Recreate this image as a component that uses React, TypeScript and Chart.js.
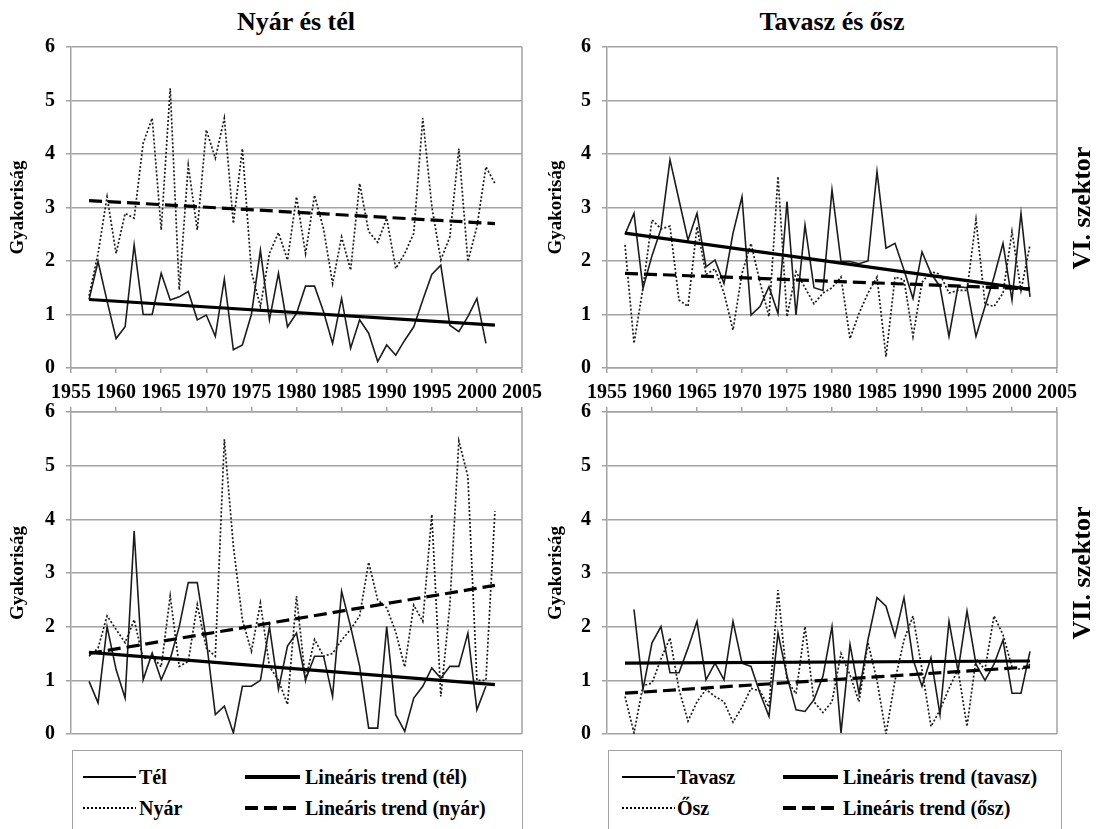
import React, { useEffect, useRef } from "react";
import { Chart, registerables } from "chart.js";

Chart.register(...registerables);

// ---------- data ----------
const years = [
  1957, 1958, 1959, 1960, 1961, 1962, 1963, 1964, 1965, 1966,
  1967, 1968, 1969, 1970, 1971, 1972, 1973, 1974, 1975, 1976,
  1977, 1978, 1979, 1980, 1981, 1982, 1983, 1984, 1985, 1986,
  1987, 1988, 1989, 1990, 1991, 1992, 1993, 1994, 1995, 1996,
  1997, 1998, 1999, 2000, 2001, 2002,
];

// VI. szektor – Nyár és tél
const telVI = [
  1.28, 1.99, 1.25, 0.55, 0.77, 2.3, 1.0, 1.0, 1.77, 1.27,
  1.33, 1.43, 0.9, 0.99, 0.59, 1.66, 0.34, 0.43, 1.0, 2.2,
  0.9, 1.77, 0.77, 1.02, 1.53, 1.53, 1.05, 0.46, 1.3, 0.37,
  0.9, 0.65, 0.12, 0.43, 0.24, 0.52, 0.77, 1.27, 1.75, 1.92,
  0.8, 0.68, 0.96, 1.3, 0.46, null,
];
const nyarVI = [
  1.35, 2.14, 3.2, 2.14, 2.89, 2.8, 4.2, 4.67, 2.58, 5.23,
  1.46, 3.79, 2.58, 4.45, 3.92, 4.67, 2.7, 4.1, 1.8, 1.15,
  2.14, 2.53, 2.02, 3.2, 2.14, 3.23, 2.6, 1.58, 2.45, 1.83,
  3.45, 2.55, 2.35, 2.8, 1.86, 2.14, 2.52, 4.67, 3.02, 2.02,
  2.45, 4.1, 1.99, 2.64, 3.76, 3.45,
];
// VI. szektor – Tavasz és ősz
const tavaszVI = [
  2.5, 2.89, 1.49, 2.1, 2.6, 3.89, 3.14, 2.39, 2.89, 1.89,
  2.02, 1.58, 2.52, 3.2, 0.99, 1.15, 1.52, 1.02, 3.11, 0.99,
  2.67, 1.5, 1.45, 3.33, 1.99, 1.99, 1.95, 2.0, 3.67, 2.24,
  2.33, 1.83, 1.3, 2.17, 1.77, 1.52, 0.59, 1.52, 1.5, 0.59,
  1.15, 1.7, 2.33, 1.27, 2.89, 1.33,
];
const oszVI = [
  2.3, 0.46, 1.5, 2.77, 2.6, 2.65, 1.27, 1.15, 2.64, 1.75,
  1.85, 1.4, 0.71, 1.77, 2.33, 1.6, 0.96, 3.58, 0.96, 1.8,
  1.5, 1.2, 1.4, 1.5, 1.7, 0.55, 1.02, 1.4, 1.7, 0.21,
  1.7, 1.65, 0.59, 1.6, 1.8, 1.75, 1.4, 1.45, 1.45, 2.77,
  1.2, 1.15, 1.4, 2.55, 1.45, 2.3,
];
// VII. szektor – Nyár és tél
const telVII = [
  0.98, 0.58, 2.0, 1.2, 0.67, 3.78, 1.01, 1.51, 1.01, 1.4,
  2.0, 2.82, 2.82, 1.75, 0.36, 0.52, 0.02, 0.89, 0.89, 1.0,
  2.0, 0.83, 1.64, 1.88, 1.01, 1.45, 1.45, 0.7, 2.66, 2.0,
  1.26, 0.11, 0.11, 2.0, 0.36, 0.05, 0.67, 0.89, 1.23, 1.04,
  1.26, 1.26, 1.88, 0.45, 0.89, null,
];
const nyarVII = [
  1.45, 1.6, 2.2, 1.95, 1.7, 2.13, 1.4, 1.45, 1.25, 2.57,
  1.26, 1.35, 2.41, 1.6, 1.45, 5.49, 3.5, 2.13, 1.54, 2.44,
  1.26, 1.0, 0.55, 2.57, 1.01, 1.76, 1.45, 1.5, 1.75, 1.95,
  2.2, 3.2, 2.5, 2.35, 1.9, 1.25, 2.4, 2.1, 4.09, 0.7,
  2.4, 5.46, 4.8, 1.0, 1.0, 4.15,
];
// VII. szektor – Tavasz és ősz
const tavaszVII = [
  null, 2.32, 0.83, 1.7, 2.0, 1.14, 1.14, 1.6, 2.1, 1.01,
  1.32, 1.01, 2.1, 1.32, 1.26, 0.76, 0.33, 1.88, 1.08, 0.45,
  0.42, 0.64, 1.08, 2.0, 0.02, 1.67, 0.76, 1.76, 2.54, 2.38,
  1.82, 2.54, 1.39, 0.89, 1.42, 0.36, 2.1, 1.17, 2.29, 1.3,
  1.0, 1.3, 1.75, 0.76, 0.76, 1.54,
];
const oszVII = [
  0.7, 0.02, 0.9, 0.95, 1.4, 1.79, 0.83, 0.24, 0.6, 0.83,
  0.7, 0.6, 0.22, 0.5, 0.85, 0.8, 0.5, 2.68, 1.0, 0.75,
  2.0, 0.6, 0.4, 0.6, 1.5, 1.1, 0.6, 1.7, 1.0, 0.0,
  1.0, 1.75, 2.2, 1.2, 0.14, 0.45, 0.85, 1.2, 0.14, 1.4,
  1.2, 2.2, 1.85, 1.25, 1.2, 1.3,
];

// linear trends (start, end)
const trendYears = [1957, 2002];
const telTrendVI = [1.28, 0.8];
const nyarTrendVI = [3.13, 2.7];
const tavaszTrendVI = [2.52, 1.47];
const oszTrendVI = [1.77, 1.48];
const telTrendVII = [1.52, 0.92];
const nyarTrendVII = [1.5, 2.77];
const tavaszTrendVII = [1.32, 1.36];
const oszTrendVII = [0.76, 1.25];

const xTicks = [1955, 1960, 1965, 1970, 1975, 1980, 1985, 1990, 1995, 2000, 2005];
const yTicks = [0, 1, 2, 3, 4, 5, 6];

const legendLeft = ["Tél", "Lineáris trend (tél)", "Nyár", "Lineáris trend (nyár)"];
const legendRight = ["Tavasz", "Lineáris trend (tavasz)", "Ősz", "Lineáris trend (ősz)"];

// ---------- styling ----------
const FONT = "'Liberation Serif', 'Times New Roman', serif";
const GRID = "#a3a3a3";

type Pt = { x: number; y: number };
function pts(xs: number[], ys: (number | null)[]): Pt[] {
  const out: Pt[] = [];
  xs.forEach((x, i) => {
    const y = ys[i];
    if (y !== null && y !== undefined) out.push({ x, y });
  });
  return out;
}

const framePlugin = {
  id: "rightFrame",
  beforeDatasetsDraw(chart: any) {
    const { ctx, chartArea: a } = chart;
    ctx.save();
    ctx.strokeStyle = GRID;
    ctx.lineWidth = 1.5;
    ctx.beginPath();
    ctx.moveTo(a.right, a.top);
    ctx.lineTo(a.right, a.bottom);
    ctx.stroke();
    ctx.restore();
  },
};

type PanelProps = {
  left: number;
  top: number;
  width: number;
  height: number;
  padding: { top: number; right: number; bottom: number; left: number };
  xPos: "top" | "bottom";
  xLabels: boolean;
  xHeight: number;
  titlePad: number;
  seriesA: (number | null)[];
  seriesB: (number | null)[];
  trendA: number[];
  trendB: number[];
};

function Panel(p: PanelProps) {
  const ref = useRef<HTMLCanvasElement | null>(null);
  useEffect(() => {
    if (!ref.current) return;
    const chart = new Chart(ref.current, {
      type: "line",
      data: {
        datasets: [
          { data: pts(trendYears, p.trendA), borderColor: "#000", borderWidth: 3.2, pointRadius: 0, tension: 0 },
          { data: pts(trendYears, p.trendB), borderColor: "#000", borderWidth: 3.2, borderDash: [13, 6], pointRadius: 0, tension: 0 },
          { data: pts(years, p.seriesA), borderColor: "#1c1c1c", borderWidth: 1.6, pointRadius: 0, tension: 0 },
          { data: pts(years, p.seriesB), borderColor: "#1c1c1c", borderWidth: 1.7, borderDash: [2, 2], pointRadius: 0, tension: 0 },
        ],
      },
      options: {
        responsive: false,
        animation: false,
        events: [],
        layout: { padding: p.padding },
        plugins: { legend: { display: false }, tooltip: { enabled: false } },
        scales: {
          x: {
            type: "linear",
            position: p.xPos,
            min: 1955,
            max: 2005,
            afterBuildTicks: (s: any) => {
              s.ticks = xTicks.map((v) => ({ value: v }));
            },
            afterFit: (s: any) => {
              s.height = p.xHeight;
              s.paddingLeft = 0;
              s.paddingRight = 0;
            },
            ticks: {
              display: p.xLabels,
              padding: 8,
              autoSkip: false,
              maxRotation: 0,
              color: "#000",
              font: { family: FONT, size: 20, weight: "bold" },
              callback: (v: any) => String(v),
            },
            grid: { drawOnChartArea: false, drawTicks: true, tickLength: 5, color: GRID, lineWidth: 1.5 },
            border: { display: true, color: GRID, width: 1.5 },
          },
          y: {
            type: "linear",
            min: 0,
            max: 6,
            afterBuildTicks: (s: any) => {
              s.ticks = yTicks.map((v) => ({ value: v }));
            },
            afterFit: (s: any) => {
              s.width = 71;
              s.paddingTop = 0;
              s.paddingBottom = 0;
            },
            ticks: {
              padding: 11,
              color: "#000",
              font: { family: FONT, size: 20, weight: "bold" },
              callback: (v: any) => String(v),
            },
            grid: { color: GRID, lineWidth: 1.5, tickLength: 5, drawTicks: true },
            border: { display: true, color: GRID, width: 1.5 },
            title: {
              display: true,
              text: "Gyakoriság",
              color: "#000",
              font: { family: FONT, size: 19, weight: "bold" },
              padding: { top: p.titlePad, bottom: 0 },
            },
          },
        },
      } as any,
      plugins: [framePlugin],
    });
    return () => chart.destroy();
  }, []);
  return (
    <canvas
      ref={ref}
      width={p.width}
      height={p.height}
      style={{ position: "absolute", left: p.left, top: p.top }}
    />
  );
}

const textBase: React.CSSProperties = {
  position: "absolute",
  fontFamily: FONT,
  fontWeight: "bold",
  color: "#000",
  whiteSpace: "nowrap",
};

function CenterText({ x, y, size, text, rotate }: { x: number; y: number; size: number; text: string; rotate?: boolean }) {
  return (
    <div
      style={{
        ...textBase,
        left: x,
        top: y,
        fontSize: size,
        lineHeight: 1,
        transform: `translate(-50%, -50%)${rotate ? " rotate(-90deg)" : ""}`,
      }}
    >
      {text}
    </div>
  );
}

type SampleKind = "thin" | "dotted" | "thick" | "dashed";
function Sample({ x1, x2, y, kind }: { x1: number; x2: number; y: number; kind: SampleKind }) {
  const h = kind === "thick" || kind === "dashed" ? 3.5 : kind === "dotted" ? 1.6 : 1.4;
  let bg = "#000";
  if (kind === "dotted") bg = "repeating-linear-gradient(to right, #000 0px, #000 2px, transparent 2px, transparent 4px)";
  if (kind === "dashed") bg = "repeating-linear-gradient(to right, #000 0px, #000 13px, transparent 13px, transparent 19px)";
  return (
    <div
      style={{ position: "absolute", left: x1, top: y - h / 2, width: x2 - x1, height: h, background: bg }}
    />
  );
}

function LegendLabel({ x, y, text }: { x: number; y: number; text: string }) {
  return (
    <div style={{ ...textBase, left: x, top: y - 12, height: 24, lineHeight: "24px", fontSize: 20 }}>{text}</div>
  );
}

function Legend({ left, width, labels, s1, t1, s2, t2 }: { left: number; width: number; labels: string[]; s1: number; t1: number; s2: number; t2: number }) {
  const r1 = 777;
  const r2 = 808;
  return (
    <>
      <div
        style={{
          position: "absolute",
          left,
          top: 750,
          width,
          height: 110,
          border: `1.5px solid ${GRID}`,
          boxSizing: "border-box",
        }}
      />
      <Sample x1={s1} x2={s1 + 53} y={r1} kind="thin" />
      <LegendLabel x={t1} y={r1} text={labels[0]} />
      <Sample x1={s2} x2={s2 + 55} y={r1} kind="thick" />
      <LegendLabel x={t2} y={r1} text={labels[1]} />
      <Sample x1={s1} x2={s1 + 53} y={r2} kind="dotted" />
      <LegendLabel x={t1} y={r2} text={labels[2]} />
      <Sample x1={s2} x2={s2 + 55} y={r2} kind="dashed" />
      <LegendLabel x={t2} y={r2} text={labels[3]} />
    </>
  );
}

export default function App() {
  const topPad = { top: 12, right: 38, bottom: 0, left: 0 };
  const botPad = { top: 4, right: 38, bottom: 12, left: 0 };
  return (
    <div
      style={{
        position: "absolute",
        left: 0,
        top: 0,
        width: 1099,
        height: 829,
        overflow: "hidden",
        background: "#fff",
      }}
    >
      <CenterText x={296} y={22} size={26} text="Nyár és tél" />
      <CenterText x={832} y={22} size={26} text="Tavasz és ősz" />

      <Panel left={0} top={35} width={560} height={370} padding={topPad} xPos="bottom" xLabels={true} xHeight={37} titlePad={6.6}
        seriesA={telVI} seriesB={nyarVI} trendA={telTrendVI} trendB={nyarTrendVI} />
      <Panel left={536} top={35} width={559} height={370} padding={topPad} xPos="bottom" xLabels={true} xHeight={37} titlePad={8.6}
        seriesA={tavaszVI} seriesB={oszVI} trendA={tavaszTrendVI} trendB={oszTrendVI} />
      <Panel left={0} top={400} width={560} height={346} padding={botPad} xPos="top" xLabels={false} xHeight={8} titlePad={6.6}
        seriesA={telVII} seriesB={nyarVII} trendA={telTrendVII} trendB={nyarTrendVII} />
      <Panel left={536} top={400} width={559} height={346} padding={botPad} xPos="top" xLabels={false} xHeight={8} titlePad={8.6}
        seriesA={tavaszVII} seriesB={oszVII} trendA={tavaszTrendVII} trendB={oszTrendVII} />

      <CenterText x={1082} y={208} size={26} text="VI. szektor" rotate />
      <CenterText x={1082} y={573} size={26} text="VII. szektor" rotate />

      <Legend left={72} width={451} labels={legendLeft} s1={83} t1={139} s2={245} t2={305} />
      <Legend left={608} width={454} labels={legendRight} s1={622} t1={677} s2={783} t2={843} />
    </div>
  );
}
